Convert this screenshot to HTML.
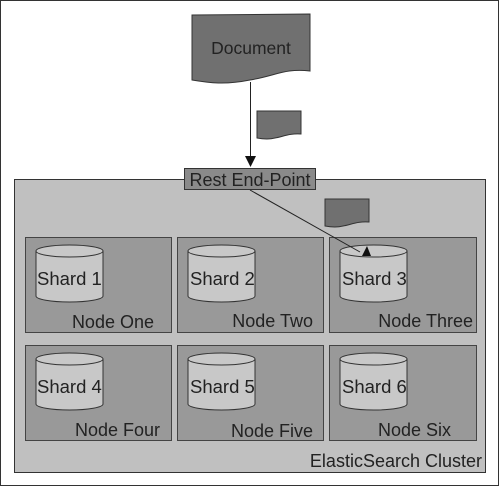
<!DOCTYPE html>
<html><head><style>body{margin:0;background:#fff}svg{display:block}text{font-family:"Liberation Sans",sans-serif;fill:#222}</style></head><body>
<svg width="500" height="487" viewBox="0 0 500 487">
<rect x="0.5" y="0.5" width="498" height="485" fill="#fff" stroke="#333"/>
<rect x="14.5" y="179.5" width="471" height="293" fill="#c0c0c0" stroke="#333"/>
<path d="M192,15 L310,14 L310,71 C285,68 275,76 250,80 C225,85 210,83 192,80 Z" fill="#707070" stroke="#333"/>
<text x="251" y="54" font-size="17.5" text-anchor="middle">Document</text>
<path d="M257,111 L301,111 L301,134 C290,133 282,137 275,138 C268,140 262,139 257,138 Z" fill="#707070" stroke="#333"/>
<path d="M325,199 L369,199 L369,222 C358,221 350,225 343,226 C336,228 330,227 325,226 Z" fill="#707070" stroke="#333"/>
<line x1="250.5" y1="82" x2="250.5" y2="158" stroke="#222"/>
<polygon points="245,156 256,156 250.5,167" fill="#111"/>
<rect x="184.5" y="168.5" width="131" height="21" fill="#8a8a8a" stroke="#333"/>
<text x="250" y="186" font-size="18" text-anchor="middle">Rest End-Point</text>
<g stroke="#444" fill="#999">
<rect x="25.5" y="237.5" width="146" height="95"/><rect x="177.5" y="237.5" width="146" height="95"/><rect x="329.5" y="237.5" width="147" height="95"/>
<rect x="25.5" y="345.5" width="146" height="95"/><rect x="177.5" y="345.5" width="146" height="95"/><rect x="329.5" y="345.5" width="147" height="95"/>
</g>
<g id="c" stroke="#333" fill="#c8c8c8">
<path d="M36,251 L36,296 A33.5,6 0 0 0 103,296 L103,251"/>
<ellipse cx="69.5" cy="251" rx="33.5" ry="6"/>
</g>
<use href="#c" x="152"/><use href="#c" x="304"/>
<use href="#c" y="108"/><use href="#c" x="152" y="108"/><use href="#c" x="304" y="108"/>
<line x1="250" y1="190" x2="360" y2="252" stroke="#222"/>
<polygon points="362,256 367,246 371,256" fill="#111"/>
<g font-size="18.5">
<text x="37" y="285">Shard 1</text><text x="190" y="285">Shard 2</text><text x="342" y="285">Shard 3</text>
<text x="37" y="393">Shard 4</text><text x="190" y="393">Shard 5</text><text x="342" y="393">Shard 6</text>
</g>
<g font-size="18">
<text x="154" y="328" text-anchor="end">Node One</text><text x="313" y="327" text-anchor="end">Node Two</text><text x="473" y="327" text-anchor="end">Node Three</text>
<text x="160" y="436" text-anchor="end">Node Four</text><text x="313" y="437" text-anchor="end">Node Five</text><text x="451" y="436" text-anchor="end">Node Six</text>
<text x="482" y="467" text-anchor="end">ElasticSearch Cluster</text>
</g>
</svg>
</body></html>
